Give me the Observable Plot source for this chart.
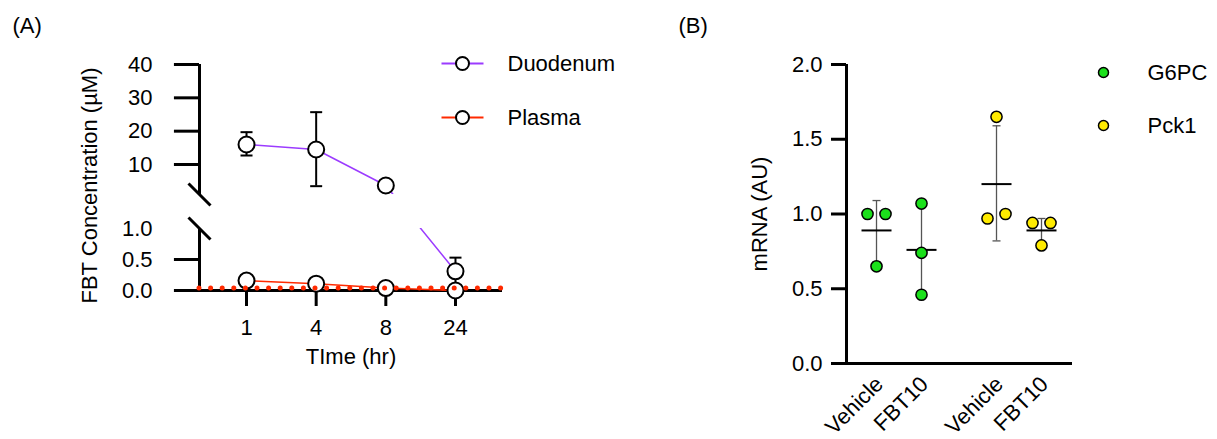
<!DOCTYPE html>
<html><head><meta charset="utf-8">
<script src="https://cdn.jsdelivr.net/npm/d3@7"></script>
<script src="https://cdn.jsdelivr.net/npm/@observablehq/plot@0.6"></script>
<style>
body{margin:0;background:#fff;}
#wrap{display:flex;width:1217px;height:439px;overflow:hidden;}
#wrap svg{flex-shrink:0;}
</style></head><body><div id="wrap"></div>
<script>
// ---------- Panel A data ----------
const timeLabels   = ["1", "4", "8", "24"];
const seriesA      = ["Duodenum", "Plasma"];
const duodenumMean = [16.0, 14.5, 3.7, 0.31];
const duodenumLow  = [12.7, 3.5, 3.7, 0.09];
const duodenumHigh = [19.7, 25.7, 3.7, 0.53];
const plasmaMean   = [0.16, 0.11, 0.04, 0.0];
const lloq         = 0.04;
const yTicksA      = [0, 0.5, 1.0, 10, 20, 30, 40];
const yTickLabelsA = ["0.0", "0.5", "1.0", "10", "20", "30", "40"];
const yTickMarksA  = [0.5, 10, 20, 30, 40];

// ---------- Panel B data ----------
const genes      = ["G6PC", "Pck1"];
const treatments = ["Vehicle", "FBT10"];
const g6pcVehicle = [1.00, 1.00, 0.65];
const g6pcFBT10   = [1.07, 0.74, 0.46];
const pck1Vehicle = [1.65, 0.97, 1.00];
const pck1FBT10   = [0.94, 0.94, 0.79];
const meanB   = [0.89, 0.76, 1.20, 0.89];
const sdLowB  = [0.68, 0.45, 0.82, 0.81];
const sdHighB = [1.09, 1.07, 1.59, 0.97];
const yTicksB = [0, 0.5, 1.0, 1.5, 2.0];

// ---------- styling ----------
const FONT = "Arial, 'Liberation Sans', Helvetica, sans-serif";
const PURPLE = "#9B3BFF", RED = "#FF2A00";
const GREEN = "#1BE01B", YELLOW = "#FFEB00";
const colorsA = [PURPLE, RED];
const colorsB = [GREEN, YELLOW];

// custom symbols
const hline = w => ({draw(ctx) { ctx.moveTo(-w, 0); ctx.lineTo(w, 0); }});
const slash = w => ({draw(ctx) { ctx.moveTo(-w, -w); ctx.lineTo(w, w); }});

// broken y axis for panel A: lower segment 0..1, upper segment 1..40 compressed
const LOWER_MAX = 1, UPPER_MIN = 1, UPPER_BASE = 1.548, UPPER_K = 0.05376;
const disp = v => v <= LOWER_MAX ? v : UPPER_BASE + (v - UPPER_MIN) * UPPER_K;
const labelMapA = new Map(yTicksA.map((v, i) => [disp(v), yTickLabelsA[i]]));

const idx = timeLabels.map((_, i) => i);
const duo = idx.map(i => ({i, v: duodenumMean[i], lo: duodenumLow[i], hi: duodenumHigh[i]}));
const pla = idx.map(i => ({i, v: plasmaMean[i]}));
const capsA = duo.flatMap(d => d.lo === d.hi ? [] : [{i: d.i, v: d.lo}, {i: d.i, v: d.hi}]);

const AX = -0.675, AXR = 3.675, TICKA = 0.36;
const T = {fontSize: 22, lineAnchor: "middle"};

const legendA = seriesA.flatMap((s, k) => [
  Plot.dot([s], {frameAnchor: "top-left", dx: 263, dy: -1 + k * 54, symbol: hline(21), stroke: colorsA[k], strokeWidth: 2, fill: "none"}),
  Plot.dot([s], {frameAnchor: "top-left", dx: 263, dy: -1 + k * 54, r: 6.5, fill: "white", stroke: "black", strokeWidth: 2}),
  Plot.text([s], {...T, frameAnchor: "top-left", dx: 308, dy: -1 + k * 54, text: d => d, textAnchor: "start"})
]);

const plotA = Plot.plot({
  width: 640, height: 439,
  marginLeft: 199, marginRight: 138, marginTop: 64, marginBottom: 149,
  style: {fontFamily: FONT, fontSize: "22px", background: "white", color: "black", overflow: "visible"},
  x: {domain: [AX, AXR]},
  y: {domain: [0, disp(40)]},
  marks: [
    Plot.ruleY([0], {x1: () => AX - TICKA, x2: () => AXR, stroke: "black", strokeWidth: 3}),
    Plot.axisX({ticks: idx, tickSize: 16, tickPadding: 13, strokeWidth: 3, tickFormat: i => timeLabels[i], label: null, fontSize: 22}),
    Plot.text(["TIme (hr)"], {...T, frameAnchor: "bottom", dy: 66, text: d => d, textAnchor: "middle"}),
    Plot.line(pla, {x: "i", y: d => disp(d.v), stroke: RED, strokeWidth: 1.5}),
    Plot.line(duo, {x: "i", y: d => disp(d.v), stroke: PURPLE, strokeWidth: 1.5}),
    // gap of the broken axis
    Plot.rect([0], {x1: () => AX, x2: () => AXR, y1: () => LOWER_MAX, y2: () => UPPER_BASE, fill: "white"}),
    Plot.ruleX([{y1: 0, y2: LOWER_MAX}, {y1: UPPER_BASE, y2: disp(40)}], {x: () => AX, y1: "y1", y2: "y2", stroke: "black", strokeWidth: 3}),
    Plot.ruleY(yTickMarksA, {y: disp, x1: () => AX - TICKA, x2: () => AX, stroke: "black", strokeWidth: 3}),
    Plot.axisY({ticks: yTicksA.map(disp), tickSize: 0, tickPadding: 47, tickFormat: d => labelMapA.get(d), label: null, fontSize: 22}),
    Plot.dot([LOWER_MAX, UPPER_BASE], {x: () => AX, y: d => d, symbol: slash(11), stroke: "black", strokeWidth: 3, fill: "none"}),
    Plot.text(["FBT Concentration (µM)"], {...T, frameAnchor: "left", textAnchor: "middle", rotate: -90, dx: -110, dy: 8, text: d => d}),
    // error bars
    Plot.ruleX(duo, {x: "i", y1: d => disp(d.lo), y2: d => disp(d.hi), stroke: "black", strokeWidth: 2}),
    Plot.dot(capsA, {x: "i", y: d => disp(d.v), symbol: hline(6), stroke: "black", strokeWidth: 2, fill: "none"}),
    // points
    Plot.dot(pla, {x: "i", y: d => disp(d.v), r: 8, fill: "white", stroke: "black", strokeWidth: 2}),
    Plot.dot(duo, {x: "i", y: d => disp(d.v), r: 8, fill: "white", stroke: "black", strokeWidth: 2}),
    // dotted limit line
    Plot.ruleY([lloq], {x1: () => AX, x2: () => AXR, stroke: RED, strokeWidth: 5, strokeDasharray: "0 11.6", strokeLinecap: "round"}),
    ...legendA,
    Plot.text(["(A)"], {...T, frameAnchor: "top-left", dx: -187, dy: -39, text: d => d, textAnchor: "start"})
  ]
});

// ---------- Panel B ----------
const GROUP_STEP = 2.667;
const groupsB = [g6pcVehicle, g6pcFBT10, pck1Vehicle, pck1FBT10];
const cats = [];
genes.forEach((g, gi) => treatments.forEach((t, ti) => cats.push({gene: g, gi, treat: t, pos: gi * GROUP_STEP + ti})));
const summaryB = cats.map((c, k) => ({...c, mean: meanB[k], lo: sdLowB[k], hi: sdHighB[k]}));
// spread near-equal values sideways (scatter jitter)
const pointsB = [];
cats.forEach((c, k) => {
  const vals = groupsB[k];
  const order = vals.map((v, j) => j).sort((a, b) => vals[a] - vals[b]);
  const off = new Array(vals.length).fill(0);
  for (let a = 0; a < order.length - 1; a++) {
    const j1 = order[a], j2 = order[a + 1];
    if (off[j1] === 0 && off[j2] === 0 && Math.abs(vals[j1] - vals[j2]) < 0.1) { off[j1] = -0.2; off[j2] = 0.2; }
  }
  vals.forEach((v, j) => pointsB.push({gene: c.gene, gi: c.gi, pos: c.pos + off[j], v}));
});
const capsB = summaryB.flatMap(d => [{pos: d.pos, v: d.lo}, {pos: d.pos, v: d.hi}]);

const BX = -0.667, BXR = 4.356, TICKB = 0.333;

const legendB = genes.flatMap((g, k) => [
  Plot.dot([g], {frameAnchor: "top-left", dx: 257, dy: 8 + k * 53, r: 5, fill: colorsB[k], stroke: "black", strokeWidth: 1.5}),
  Plot.text([g], {...T, frameAnchor: "top-left", dx: 301, dy: 8 + k * 53, text: d => d, textAnchor: "start"})
]);

const plotB = Plot.plot({
  width: 577, height: 439,
  marginLeft: 206, marginRight: 145, marginTop: 64, marginBottom: 76,
  style: {fontFamily: FONT, fontSize: "22px", background: "white", color: "black", overflow: "visible"},
  x: {domain: [BX, BXR], axis: null},
  y: {domain: [0, 2]},
  marks: [
    Plot.ruleY([0], {x1: () => BX, x2: () => BXR, stroke: "black", strokeWidth: 3}),
    Plot.ruleX([0], {x: () => BX, y1: () => 0, y2: () => 2, stroke: "black", strokeWidth: 3}),
    Plot.ruleY(yTicksB, {y: d => d, x1: () => BX - TICKB, x2: () => BX, stroke: "black", strokeWidth: 3}),
    Plot.axisY({ticks: yTicksB, tickSize: 0, tickPadding: 24, tickFormat: d3.format(".1f"), label: null, fontSize: 22}),
    Plot.text(["mRNA (AU)"], {...T, frameAnchor: "left", textAnchor: "middle", rotate: -90, dx: -87, dy: 0, text: d => d}),
    Plot.text(cats, {x: "pos", y: () => 0, text: "treat", rotate: -45, textAnchor: "end", dx: 3, dy: 17, fontSize: 22}),
    Plot.ruleX(summaryB, {x: "pos", y1: "lo", y2: "hi", stroke: "#555", strokeWidth: 1.3}),
    Plot.dot(capsB, {x: "pos", y: "v", symbol: hline(4), stroke: "#555", strokeWidth: 1.3, fill: "none"}),
    Plot.dot(summaryB, {x: "pos", y: "mean", symbol: hline(15), stroke: "black", strokeWidth: 2, fill: "none"}),
    Plot.dot(pointsB, {x: "pos", y: "v", r: 5.6, fill: d => colorsB[d.gi], stroke: "black", strokeWidth: 1.5}),
    ...legendB,
    Plot.text(["(B)"], {...T, frameAnchor: "top-left", dx: -168, dy: -39, text: d => d, textAnchor: "start"})
  ]
});

const wrap = document.getElementById("wrap");
wrap.append(plotA, plotB);
</script></body></html>
